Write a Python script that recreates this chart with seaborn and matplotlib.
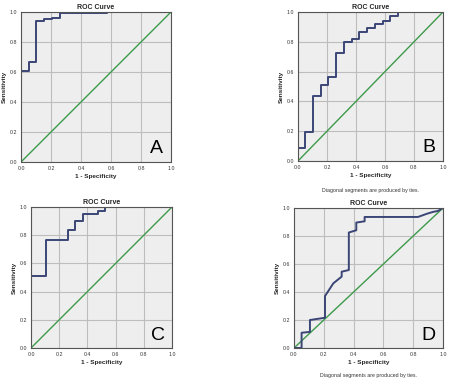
import matplotlib
matplotlib.use("Agg")
import matplotlib.pyplot as plt
import seaborn as sns
import pandas as pd

# ROC curve vertices (1 - specificity, sensitivity)
a_fpr = [0.0, 0.0, 0.051, 0.051, 0.102, 0.102, 0.155, 0.155, 0.206, 0.206, 0.26, 0.26, 0.576, 0.576, 1.0]
a_tpr = [0.0, 0.607, 0.607, 0.664, 0.664, 0.94, 0.94, 0.951, 0.951, 0.962, 0.962, 0.993, 0.993, 1.0, 1.0]

b_fpr = [0.0, 0.0, 0.05, 0.05, 0.103, 0.103, 0.158, 0.158, 0.21, 0.21, 0.261, 0.261, 0.318, 0.318,
         0.371, 0.371, 0.423, 0.423, 0.476, 0.476, 0.531, 0.531, 0.584, 0.584, 0.636, 0.636, 0.691, 0.691, 1.0]
b_tpr = [0.0, 0.088, 0.088, 0.196, 0.196, 0.436, 0.436, 0.512, 0.512, 0.566, 0.566, 0.728, 0.728, 0.8,
         0.8, 0.822, 0.822, 0.865, 0.865, 0.894, 0.894, 0.917, 0.917, 0.942, 0.942, 0.975, 0.975, 1.0, 1.0]

c_fpr = [0.0, 0.0, 0.106, 0.106, 0.261, 0.261, 0.313, 0.313, 0.367, 0.367, 0.475, 0.475, 0.527, 0.527, 1.0]
c_tpr = [0.0, 0.51, 0.51, 0.765, 0.765, 0.84, 0.84, 0.901, 0.901, 0.948, 0.948, 0.969, 0.969, 1.0, 1.0]

d_fpr = [0.0, 0.051, 0.051, 0.107, 0.107, 0.208, 0.208, 0.264, 0.32, 0.32, 0.368, 0.368, 0.418, 0.418,
         0.474, 0.474, 0.832, 0.895, 0.933, 0.966, 1.0]
d_tpr = [0.0, 0.0, 0.109, 0.115, 0.2, 0.216, 0.371, 0.462, 0.51, 0.545, 0.557, 0.825, 0.841, 0.896,
         0.905, 0.936, 0.936, 0.96, 0.972, 0.979, 1.0]

panels = [
    ("A", a_fpr, a_tpr, [21, 12, 150, 150], False),
    ("B", b_fpr, b_tpr, [298, 12, 145, 149], True),
    ("C", c_fpr, c_tpr, [31, 207, 141, 141], False),
    ("D", d_fpr, d_tpr, [294, 208, 149, 140], True),
]
ticks = [0.0, 0.2, 0.4, 0.6, 0.8, 1.0]
tick_labels = ["0.0", "0.2", "0.4", "0.6", "0.8", "1.0"]

sns.set_theme(style="white")
plt.rcParams["font.family"] = ["Liberation Sans", "DejaVu Sans"]

W, H = 450, 383
fig = plt.figure(figsize=(4.5, 3.83), dpi=100)
fig.patch.set_facecolor("white")

for letter, fpr, tpr, box, ties in panels:
    x0, y0, w, h = box
    ax = fig.add_axes([x0 / W, 1 - (y0 + h) / H, w / W, h / H])
    ax.set_facecolor("#eeeeee")
    diag = pd.DataFrame({"x": [0, 1], "y": [0, 1]})
    curve = pd.DataFrame({"x": fpr, "y": tpr})
    sns.lineplot(data=diag, x="x", y="y", ax=ax, color="#3d9a4a", linewidth=1.0,
                 sort=False, estimator=None)
    sns.lineplot(data=curve, x="x", y="y", ax=ax, color="#3b4676", linewidth=1.4,
                 sort=False, estimator=None)
    ax.set_xlim(0, 1)
    ax.set_ylim(0, 1)
    ax.set_xticks(ticks)
    ax.set_yticks(ticks)
    ax.set_xticklabels(tick_labels, fontsize=3.8)
    ax.set_yticklabels(tick_labels, fontsize=3.8)
    ax.tick_params(length=1.5, width=0.5, pad=1.2, colors="#333333")
    ax.grid(True, color="#bdbdbd", linewidth=0.8)
    for s in ax.spines.values():
        s.set_color("#555555")
        s.set_linewidth(0.8)
    ax.set_xlabel("1 - Specificity", fontsize=4.6, fontweight="bold", labelpad=2)
    ax.set_ylabel("Sensitivity", fontsize=4.6, fontweight="bold", labelpad=2)
    ax.set_title("ROC Curve", fontsize=5, fontweight="bold", pad=2)
    ax.text(0.9, 0.09, letter, transform=ax.transAxes, fontsize=14,
            ha="center", va="center", color="black")
    if ties:
        ax.text(0.5, -0.18, "Diagonal segments are produced by ties.", transform=ax.transAxes,
                fontsize=3.8, ha="center", va="top", color="#333333")

fig.savefig("out.png", dpi=100)
